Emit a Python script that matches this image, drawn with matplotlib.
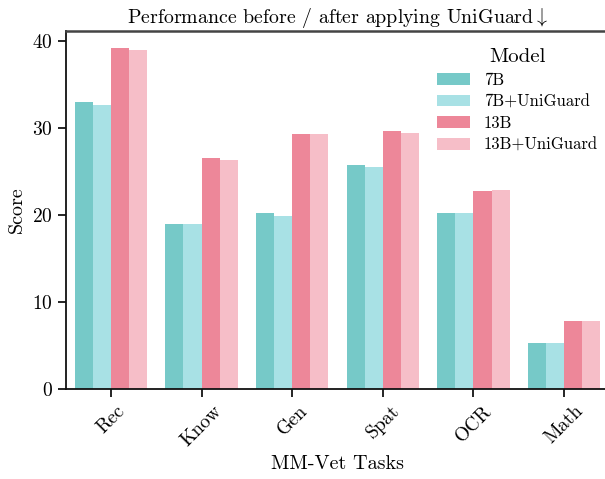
import numpy as np
import matplotlib
matplotlib.use("Agg")
import matplotlib.pyplot as plt

plt.rcParams["font.family"] = "cmr10"
plt.rcParams["mathtext.fontset"] = "cm"
plt.rcParams["axes.formatter.use_mathtext"] = True

tasks = ["Rec", "Know", "Gen", "Spat", "OCR", "Math"]
models = ["7B", "7B+UniGuard", "13B", "13B+UniGuard"]
score_7b = [32.9, 19.0, 20.2, 25.7, 20.2, 5.3]
score_7b_ug = [32.6, 19.0, 19.9, 25.5, 20.2, 5.3]
score_13b = [39.2, 26.5, 29.3, 29.6, 22.7, 7.8]
score_13b_ug = [38.9, 26.3, 29.3, 29.4, 22.8, 7.8]
colors = ["#76C9C8", "#A8E1E5", "#ED8799", "#F6BEC8"]

series = [score_7b, score_7b_ug, score_13b, score_13b_ug]

fig = plt.figure(figsize=(6.05, 4.79), dpi=100)
ax = fig.add_axes([65.7 / 605, 1 - 389 / 479, (609.3 - 65.7) / 605, (389 - 31) / 479])

x = np.arange(len(tasks))
width = 0.2
for i, (vals, label, color) in enumerate(zip(series, models, colors)):
    ax.bar(x - 0.3 + i * width, vals, width=width, color=color, label=label, linewidth=0)

ax.set_xlim(-0.5, len(tasks) - 0.5)
ax.set_ylim(0, 41.1)
ax.set_yticks([0, 10, 20, 30, 40])
ax.set_xticks(x)
ax.set_xticklabels(tasks, rotation=45, ha="center")
ax.tick_params(axis="both", labelsize=14, length=6, width=1.2, direction="out")

for side in ["left", "bottom"]:
    ax.spines[side].set_color("#111111")
    ax.spines[side].set_linewidth(1.3)
for side in ["top", "right"]:
    ax.spines[side].set_color("#444444")
    ax.spines[side].set_linewidth(1.8)

ax.set_xlabel("MM-Vet Tasks", fontsize=14.5)
ax.set_ylabel("Score", fontsize=14.5)
ax.set_title(r"Performance before / after applying UniGuard$\downarrow$",
             fontsize=14.3, pad=6)

leg = ax.legend(title="Model", frameon=False, fontsize=12, title_fontsize=15,
                loc="upper left", bbox_to_anchor=(422 / 605, 1 - 33 / 479),
                bbox_transform=fig.transFigure, handlelength=2.0, handleheight=0.7,
                labelspacing=0.38)

fig.savefig("out.png", dpi=100)
